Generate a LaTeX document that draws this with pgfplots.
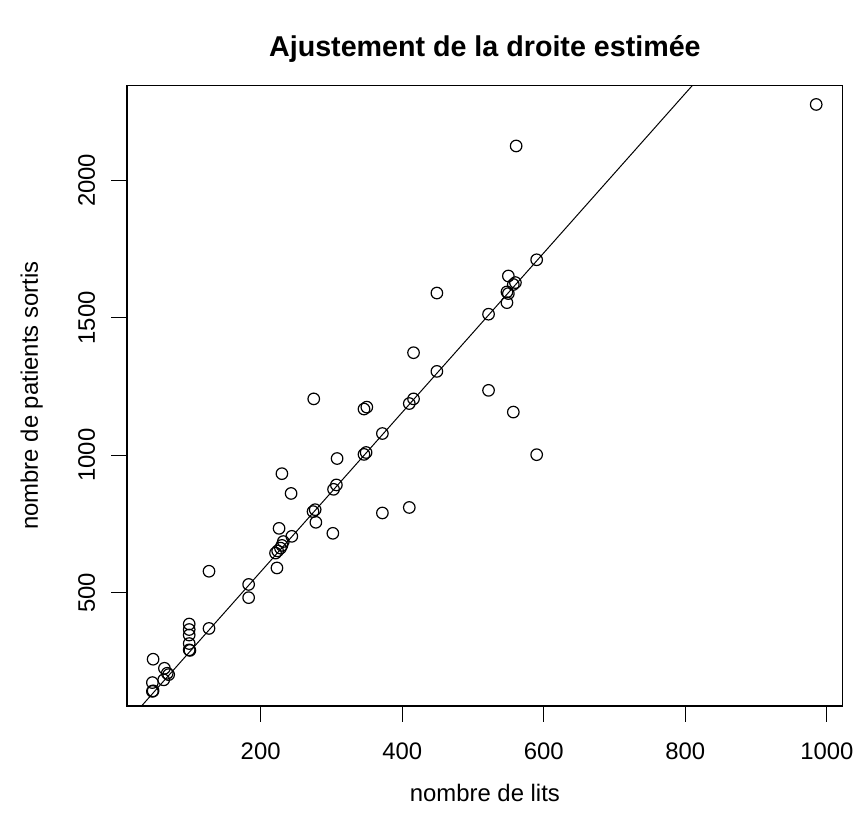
\documentclass[border=0pt]{standalone}
\usepackage{pgfplots}
\pgfplotsset{compat=1.18}
\usepackage{fontspec}
\setmainfont{Liberation Sans}
\begin{document}
\begin{tikzpicture}
\begin{axis}[
  scale only axis,
  width=359.65pt, height=311.75pt,
  xmin=11.2, xmax=1022.5, ymin=88.1, ymax=2344.7,
  axis line style={line width=0.6pt},
  tick align=outside, major tick length=8pt,
  tick style={line width=0.6pt, black},
  xtick={200,400,600,800,1000},
  ytick={500,1000,1500,2000},
  xtick pos=bottom, ytick pos=left,
  /pgf/number format/assume math mode=true,
  /pgf/number format/set thousands separator={},
  ticklabel style={font=\fontsize{12}{14}\selectfont},
  yticklabel style={rotate=90, anchor=south, yshift=4.5pt},
  xticklabel style={anchor=north, yshift=-7pt},
]
\addplot[only marks, mark=o, mark size=2.9pt, mark options={line width=0.6pt}, black] coordinates {
(48,258) (64,225) (68,207) (70,202) (63,183) (47,173) (47,141) (48,143)
(99,386) (99,366) (99,346) (99,315) (99,292) (100,290) (127,370) (127,578)
(183,530) (183,482) (223,590) (221,644) (224,652) (228,662) (230,672) (232,686)
(226,734) (244,705) (230,933) (243,861) (274,795) (277,802) (278,756) (302,716)
(303,876) (307,892) (308,988) (275,1205) (346,1168) (350,1175) (346,1003) (349,1010)
(372,1079) (372,790) (410,810) (410,1188) (416,1205) (416,1373) (449,1305) (449,1590)
(522,1513) (522,1236) (548,1555) (548,1594) (550,1588) (550,1652) (557,1621) (560,1628)
(557,1157) (561,2125) (590,1711) (590,1002) (985,2276)
};
\addplot[black, line width=0.5pt] coordinates {(0,-4) (1100,3186)};
\coordinate (O) at (rel axis cs:0,0);
\coordinate (T) at (rel axis cs:0.5,1);
\coordinate (B) at (rel axis cs:0.5,0);
\coordinate (L) at (rel axis cs:0,0.5);
\end{axis}
\node[font=\bfseries\fontsize{14.4}{17}\selectfont, anchor=base] at ([yshift=14.5pt]T) {Ajustement de la droite estimée};
\node[font=\fontsize{12}{14}\selectfont, anchor=base] at ([yshift=-48.25pt]B) {nombre de lits};
\node[font=\fontsize{12}{14}\selectfont, anchor=base, rotate=90] at ([xshift=-44.8pt]L) {nombre de patients sortis};
\path (O) ++(-63.85pt,-59.75pt) rectangle ++(430pt,414.5pt);
\end{tikzpicture}
\end{document}
